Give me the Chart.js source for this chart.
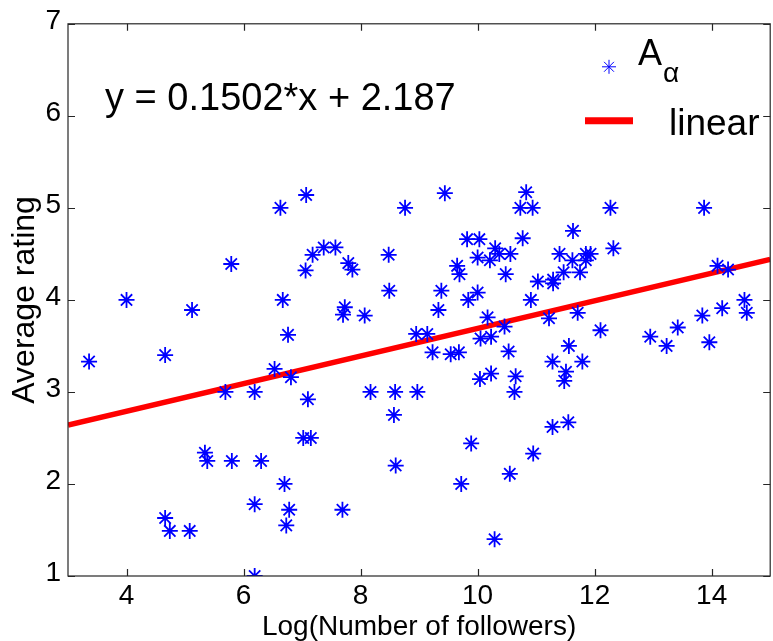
<!DOCTYPE html>
<html>
<head>
<meta charset="utf-8">
<script src="https://cdn.jsdelivr.net/npm/chart.js@4.4.1/dist/chart.umd.min.js"></script>
<style>
  html, body { margin: 0; padding: 0; background: #fff; overflow: hidden; }
  #wrap { width: 780px; height: 641px; }
</style>
</head>
<body>
<div id="wrap"><canvas id="grafiek" width="780" height="641"></canvas></div>
<script>
// values
const xTicks = [4, 6, 8, 10, 12, 14];
const yTicks = [1, 2, 3, 4, 5, 6, 7];

const followers = [
  3.36, 4.00, 4.66, 5.12, 5.79, 6.63, 7.07, 8.76, 7.18, 7.37,
  7.57, 7.06, 7.79, 7.86, 8.48, 8.49, 6.67, 6.76, 7.73, 7.70,
  8.07, 8.95, 9.14, 9.23, 6.53, 6.81, 9.44, 10.83, 10.73, 10.94,
  11.63, 9.82, 10.03, 10.77, 10.30, 10.37, 10.56, 10.00, 10.21, 9.65,
  9.69, 10.48, 11.40, 11.62, 11.85, 11.93, 11.85, 11.75, 11.47, 11.29,
  11.29, 11.03, 10.91, 9.38, 9.33, 9.84, 10.00, 10.17, 10.46, 11.22,
  11.71, 10.05, 10.23, 10.53, 9.54, 9.68, 11.56, 11.28, 11.79, 11.51,
  11.48, 10.04, 10.23, 10.65, 12.27, 13.87, 12.32, 14.10, 14.28, 14.56,
  14.60, 14.18, 13.84, 13.96, 13.42, 12.95, 13.23, 12.10, 10.63, 8.59,
  8.97, 8.17, 8.57, 8.60, 9.89, 9.72, 10.55, 10.95, 11.28, 11.55,
  10.29, 5.69, 6.19, 7.10, 7.02, 7.15, 5.34, 5.38, 5.80, 6.30,
  6.70, 6.19, 6.78, 6.73, 7.69, 4.66, 4.74, 5.08, 6.19
];
const ratings = [
  3.33, 4.00, 3.40, 3.89, 4.39, 5.00, 5.14, 5.00, 4.49, 4.57,
  4.57, 4.32, 4.40, 4.33, 4.49, 4.10, 4.00, 3.62, 3.92, 3.84,
  3.83, 3.63, 3.63, 3.43, 3.25, 3.16, 5.16, 5.17, 5.00, 5.00,
  4.75, 4.66, 4.66, 4.67, 4.56, 4.50, 4.50, 4.46, 4.43, 4.37,
  4.28, 4.28, 4.50, 4.43, 4.50, 4.50, 4.43, 4.30, 4.30, 4.22,
  4.18, 4.20, 4.00, 4.10, 3.89, 4.00, 4.08, 3.81, 3.71, 3.80,
  3.86, 3.58, 3.60, 3.44, 3.41, 3.43, 3.50, 3.33, 3.33, 3.22,
  3.12, 3.14, 3.20, 3.17, 5.00, 5.00, 4.56, 4.37, 4.33, 4.00,
  3.86, 3.91, 3.83, 3.54, 3.70, 3.60, 3.50, 3.67, 3.00, 3.00,
  3.00, 3.00, 2.75, 2.20, 2.44, 2.00, 2.11, 2.33, 2.62, 2.67,
  1.40, 3.00, 3.00, 2.92, 2.50, 2.50, 2.34, 2.25, 2.25, 2.25,
  2.00, 1.78, 1.72, 1.55, 1.72, 1.63, 1.49, 1.49, 1.00
];

const fitX = [3, 15];
const fitY = [2.64, 4.44];

const seriesLabels = ["A_\u03b1", "linear"];
const equation = "y = 0.1502*x + 2.187";

const lettertype = "'Liberation Sans', Arial, Helvetica, sans-serif";
const blauw = "#0000ff";
const rood = "#ff0000";

// inward ticks and box like the original figure
const kaderPlugin = {
  id: "kader",
  afterDatasetsDraw(chart) {
    const { ctx, chartArea: a, scales } = chart;
    ctx.save();
    ctx.strokeStyle = "#262626";
    ctx.lineWidth = 1.2;
    ctx.strokeRect(a.left, a.top, a.right - a.left, a.bottom - a.top);
    ctx.beginPath();
    xTicks.forEach(t => {
      const px = Math.round(scales.x.getPixelForValue(t)) + 0.5;
      ctx.moveTo(px, a.bottom); ctx.lineTo(px, a.bottom - 7);
      ctx.moveTo(px, a.top); ctx.lineTo(px, a.top + 7);
    });
    yTicks.forEach(t => {
      const py = Math.round(scales.y.getPixelForValue(t)) + 0.5;
      ctx.moveTo(a.left, py); ctx.lineTo(a.left + 7, py);
      ctx.moveTo(a.right, py); ctx.lineTo(a.right - 7, py);
    });
    ctx.stroke();
    ctx.restore();
  }
};

const tekstPlugin = {
  id: "tekst",
  afterDraw(chart) {
    const { ctx, chartArea: a } = chart;
    ctx.save();
    ctx.fillStyle = "#000";
    ctx.textBaseline = "alphabetic";
    ctx.textAlign = "left";

    // fit equation
    ctx.font = "38px " + lettertype;
    ctx.fillText(equation, a.left + 37, a.top + 86);

    // legend, no box
    const lx = a.left + 517;
    const ds0 = chart.data.datasets[0];
    ctx.strokeStyle = ds0.borderColor;
    ctx.fillStyle = ds0.backgroundColor;
    Chart.helpers.drawPoint(ctx, { pointStyle: "star", radius: 7, borderWidth: 1.5, rotation: 0 }, lx + 24, a.top + 43);

    const [hoofd, sub] = seriesLabels[0].split("_");
    ctx.fillStyle = "#000";
    ctx.font = "36px " + lettertype;
    ctx.fillText(hoofd, lx + 53, a.top + 41);
    const w = ctx.measureText(hoofd).width;
    ctx.font = "28px " + lettertype;
    ctx.fillText(sub, lx + 53 + w + 1, a.top + 58);

    ctx.strokeStyle = rood;
    ctx.lineWidth = 7;
    ctx.beginPath();
    ctx.moveTo(lx, a.top + 97);
    ctx.lineTo(lx + 48, a.top + 97);
    ctx.stroke();

    ctx.font = "37px " + lettertype;
    ctx.fillText(seriesLabels[1], lx + 84, a.top + 111);
    ctx.restore();
  }
};

const punten = followers.map((x, i) => ({ x: x, y: ratings[i] }));
const lijn = fitX.map((x, i) => ({ x: x, y: fitY[i] }));

const ctx = document.getElementById("grafiek").getContext("2d");
window.spreiding = new Chart(ctx, {
  type: "scatter",
  data: {
    datasets: [
      {
        label: seriesLabels[0],
        data: punten,
        pointStyle: "star",
        pointRadius: 8,
        pointBorderWidth: 1.8,
        borderColor: blauw,
        backgroundColor: blauw,
        order: 0
      },
      {
        type: "line",
        label: seriesLabels[1],
        data: lijn,
        borderColor: rood,
        borderWidth: 5.5,
        pointRadius: 0,
        fill: false,
        order: 1
      }
    ]
  },
  options: {
    responsive: false,
    animation: false,
    devicePixelRatio: 1,
    layout: { padding: { left: 0, top: 17, right: 4, bottom: 0 } },
    plugins: {
      legend: { display: false },
      tooltip: { enabled: false }
    },
    scales: {
      x: {
        type: "linear",
        min: 3,
        max: 15,
        grid: { display: false, drawTicks: false },
        border: { display: false },
        afterBuildTicks: s => { s.ticks = xTicks.map(v => ({ value: v })); },
        afterFit: s => { s.height = 65; },
        ticks: {
          color: "#000",
          padding: 3,
          maxRotation: 0,
          autoSkip: false,
          font: { family: lettertype, size: 28 }
        },
        title: {
          display: true,
          text: "Log(Number of followers)",
          color: "#000",
          padding: { top: 0, bottom: -3 },
          font: { family: lettertype, size: 28 }
        }
      },
      y: {
        type: "linear",
        min: 1,
        max: 7,
        grid: { display: false, drawTicks: false },
        border: { display: false },
        afterBuildTicks: s => { s.ticks = yTicks.map(v => ({ value: v })); },
        afterFit: s => { s.width = 68; },
        ticks: {
          color: "#000",
          padding: 7,
          labelOffset: -3,
          autoSkip: false,
          font: { family: lettertype, size: 28 }
        },
        title: {
          display: true,
          text: "Average rating",
          color: "#000",
          padding: { top: 6, bottom: 0 },
          font: { family: lettertype, size: 32 }
        }
      }
    }
  },
  plugins: [kaderPlugin, tekstPlugin]
});
</script>
</body>
</html>
